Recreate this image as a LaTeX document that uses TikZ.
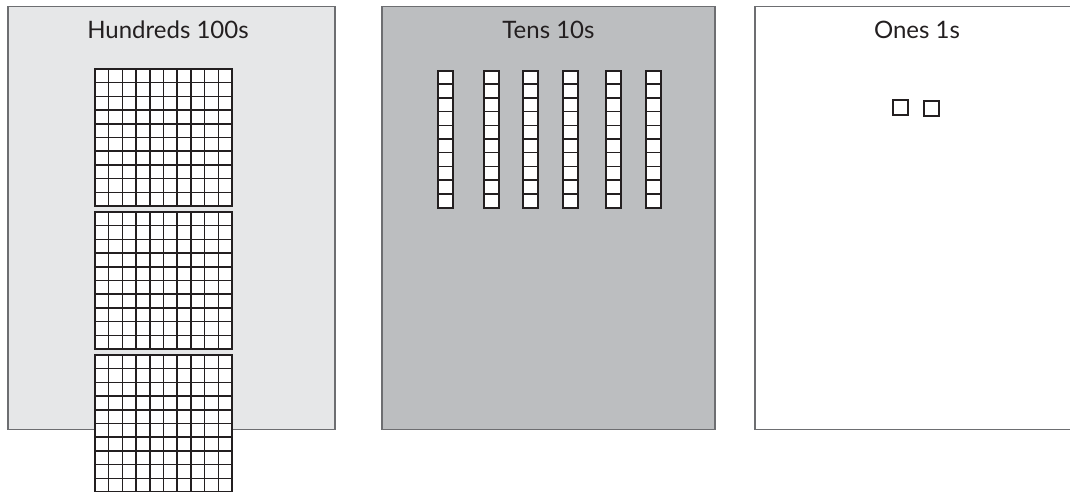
\documentclass[tikz,border=0pt]{standalone}
\usepackage{fontspec}
\setmainfont{Lato}
\definecolor{inkc}{HTML}{231F20}
\definecolor{edgec}{HTML}{6D6E71}
\definecolor{hundredbg}{HTML}{E6E7E8}
\definecolor{tenbg}{HTML}{BCBEC0}
\tikzset{
  panel/.style={draw=edgec, line width=1.5pt, anchor=north west, inner sep=0pt, outer sep=0pt},
  paneltitle/.style={text=inkc, font=\fontsize{24}{27}\selectfont, anchor=center},
  cellline/.style={draw=inkc, line width=1.5pt},
  blockedge/.style={draw=inkc, line width=2pt, fill=white},
  pics/hundredflat/.style={code={
    \path[blockedge] (0,0) rectangle (137,137);
    \foreach \k in {1,...,9}{
      \pgfmathsetmacro{\pos}{\k*13.7}
      \draw[cellline] (\pos,0) -- (\pos,137);
      \draw[cellline] (0,\pos) -- (137,\pos);
    }
    \draw[blockedge, fill=none] (0,0) rectangle (137,137);
  }},
  pics/tenrod/.style={code={
    \path[blockedge] (0,0) rectangle (15,137);
    \foreach \k in {1,...,9}{
      \pgfmathsetmacro{\pos}{\k*13.7}
      \draw[cellline] (0,\pos) -- (15,\pos);
    }
    \draw[blockedge, fill=none] (0,0) rectangle (15,137);
  }},
  pics/onecube/.style={code={
    \path[blockedge] (0,0) rectangle (15,15);
  }}
}
\begin{document}
\begin{tikzpicture}[x=1pt,y=-1pt]
\useasboundingbox (0,0) rectangle (1070,491);
\fill[white] (0,0) rectangle (1070,491);
% panels
\node[panel, fill=hundredbg, minimum width=327pt, minimum height=423pt] (hpanel) at (8,6.5) {};
\node[panel, fill=tenbg, minimum width=333pt, minimum height=423pt] (tpanel) at (382,6.5) {};
\node[panel, fill=white, minimum width=330pt, minimum height=423pt] (opanel) at (755,6.5) {};
% titles
\node[paneltitle] (htitle) at (168,30) {Hundreds 100s};
\node[paneltitle] (ttitle) at (548.5,30) {Tens 10s};
\node[paneltitle] (otitle) at (917,30) {Ones 1s};
% hundreds
\pic (flatA) at (95,69) {hundredflat};
\pic (flatB) at (95,212) {hundredflat};
\pic (flatC) at (95,355) {hundredflat};
% tens
\foreach \xx [count=\n] in {438,484,523,563,606,646}{
  \pic (rod\n) at (\xx,70.5) {tenrod};
}
% ones
\pic (cubeA) at (893,100) {onecube};
\pic (cubeB) at (923.5,101) {onecube};
\end{tikzpicture}
\end{document}
